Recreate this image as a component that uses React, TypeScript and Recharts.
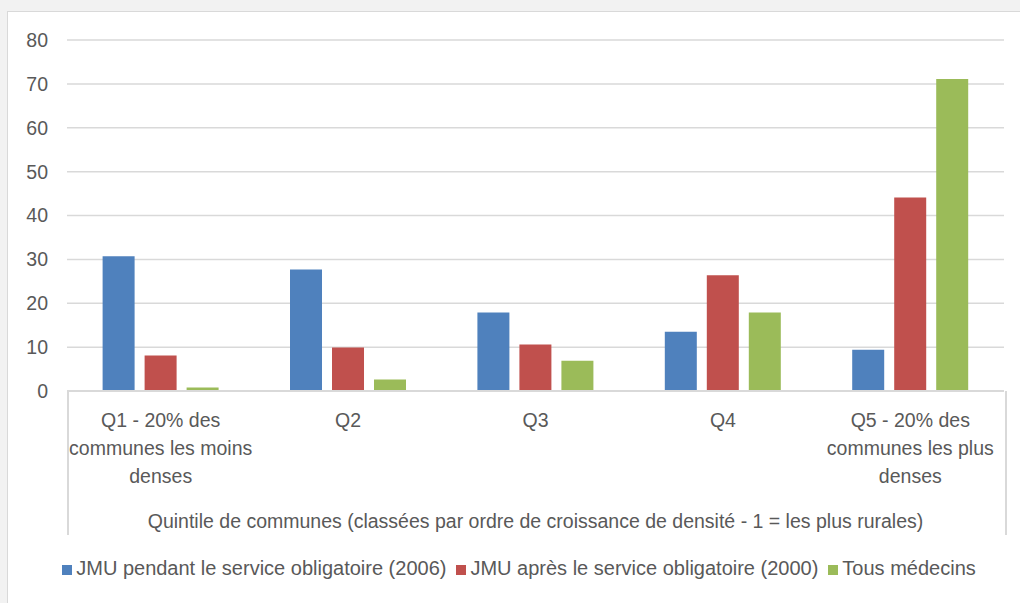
import React from 'react';
import { BarChart, Bar, XAxis, YAxis, CartesianGrid, Legend } from 'recharts';

const categories = ['Q1', 'Q2', 'Q3', 'Q4', 'Q5'];
const categoryLabels = [
  ['Q1 - 20% des', 'communes les moins', 'denses'],
  ['Q2'],
  ['Q3'],
  ['Q4'],
  ['Q5 - 20% des', 'communes les plus', 'denses'],
];
const jmuPendant = [30.7, 27.7, 17.9, 13.5, 9.4];
const jmuApres = [8.1, 9.9, 10.6, 26.4, 44.1];
const tousMedecins = [0.8, 2.6, 6.9, 17.9, 71.1];
const yTicks = [0, 10, 20, 30, 40, 50, 60, 70, 80];

const data = categories.map((c, i) => ({
  name: c,
  pendant: jmuPendant[i],
  apres: jmuApres[i],
  tous: tousMedecins[i],
}));

const FONT = '"Liberation Sans", Arial, sans-serif';
const TEXT = '#595959';
const FS = 19.5;

const CategoryTick = (props: any) => {
  const { x, y, index } = props;
  const lines = categoryLabels[index] || [];
  return (
    <g>
      {lines.map((l, i) => (
        <text
          key={i}
          x={x}
          y={y + 29 + i * 28}
          textAnchor="middle"
          dominantBaseline="central"
          fill={TEXT}
          fontSize={FS}
          fontFamily={FONT}
        >
          {l}
        </text>
      ))}
    </g>
  );
};

export default function App() {
  return (
    <div style={{ position: 'absolute', left: 0, top: 0, width: 1020, height: 603, background: '#f2f2f2', overflow: 'hidden' }}>
      <div style={{ position: 'absolute', left: 7, top: 11, width: 1020, height: 600, background: '#fff', border: '1px solid #d9d9d9' }} />
      {/* category axis box */}
      <div style={{ position: 'absolute', left: 67, top: 391, width: 936, height: 144, borderLeft: '2px solid #d9d9d9', borderRight: '2px solid #d9d9d9' }} />
      <div style={{ position: 'absolute', left: 0, top: 0 }}>
        <BarChart
          width={1020}
          height={603}
          data={data}
          margin={{ top: 40, right: 16, bottom: 72, left: 7 }}
          barCategoryGap="19%"
          barGap={10}
        >
          <CartesianGrid vertical={false} stroke="#d9d9d9" strokeWidth={1.5} />
          <XAxis
            dataKey="name"
            height={140}
            tickLine={false}
            tickSize={0}
            tickMargin={0}
            axisLine={{ stroke: '#d9d9d9', strokeWidth: 2 }}
            tick={<CategoryTick />}
            interval={0}
            label={{
              value: 'Quintile de communes (classées par ordre de croissance de densité - 1 = les plus rurales)',
              position: 'insideBottom',
              offset: 0,
              dy: -3,
              fill: TEXT,
              fontSize: FS,
              fontFamily: FONT,
            }}
          />
          <YAxis
            width={60}
            domain={[0, 80]}
            ticks={yTicks}
            axisLine={false}
            tickLine={false}
            tickSize={0}
            tickMargin={19}
            tick={{ fill: TEXT, fontSize: FS, fontFamily: FONT }}
          />
          <Legend
            layout="horizontal"
            verticalAlign="middle"
            align="center"
            iconType="square"
            iconSize={10}
            itemSorter={null as any}
            wrapperStyle={{ top: 557, left: 14, width: 1020, fontFamily: FONT, fontSize: 20 }}
            formatter={(value: string) => <span style={{ color: TEXT }}>{value}</span>}
          />
          <Bar dataKey="pendant" name="JMU pendant le service obligatoire (2006)" fill="#4f81bd" isAnimationActive={false} />
          <Bar dataKey="apres" name="JMU après le service obligatoire (2000)" fill="#c0504d" isAnimationActive={false} />
          <Bar dataKey="tous" name="Tous médecins" fill="#9bbb59" isAnimationActive={false} />
        </BarChart>
      </div>
    </div>
  );
}
